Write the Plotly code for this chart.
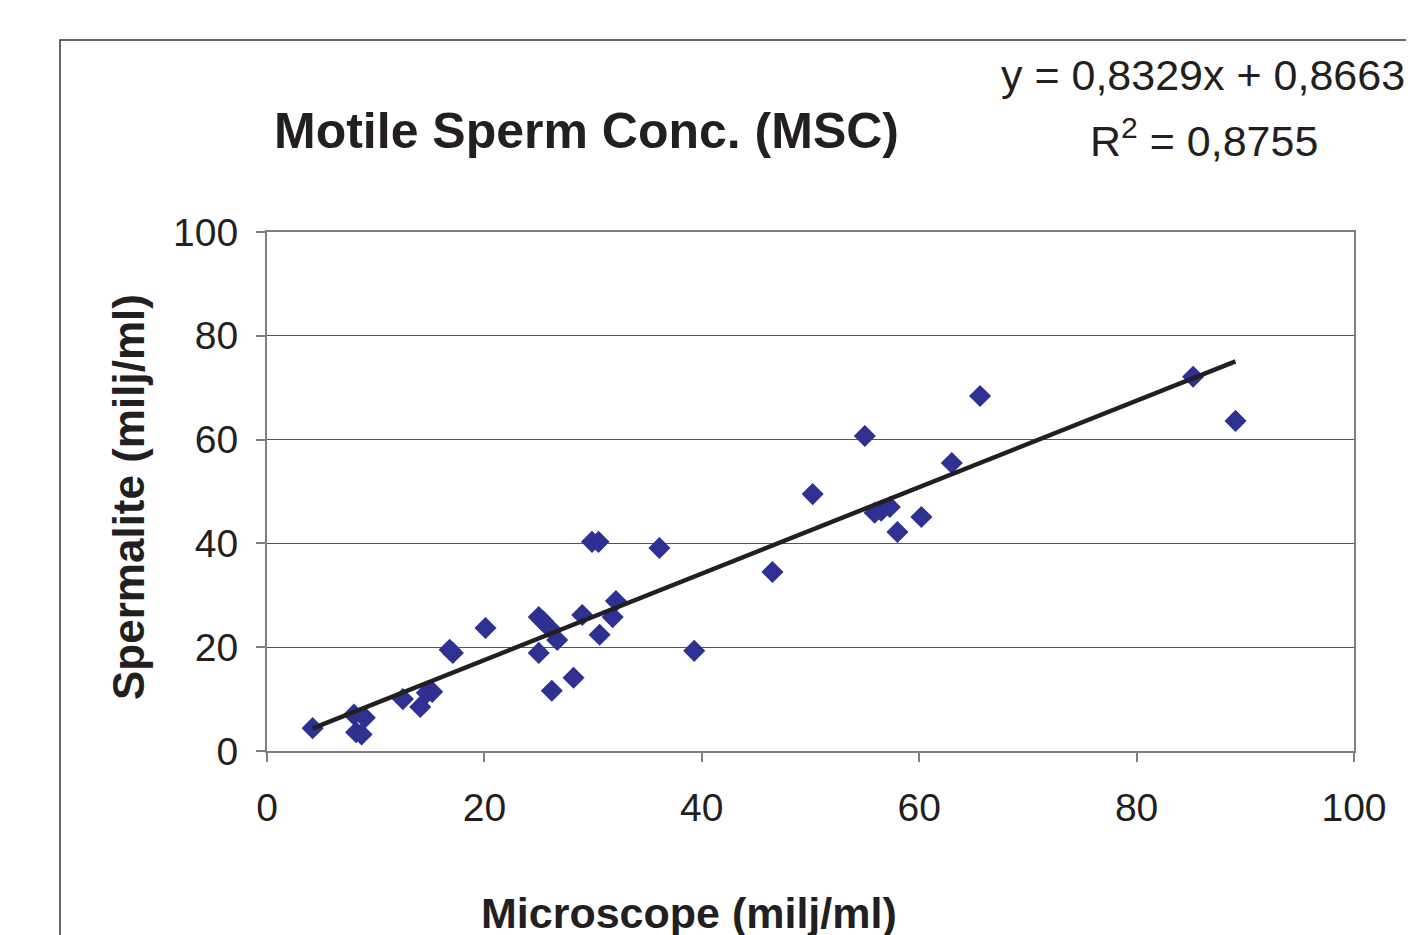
import plotly.graph_objects as go

# Data
microscope = [4.2, 8.0, 9.0, 8.2, 8.7, 12.5, 14.1, 14.7, 15.2, 16.8, 17.1, 20.1,
              25.0, 25.4, 26.0, 26.7, 25.0, 26.2, 28.2, 29.0, 30.6, 31.8, 32.1,
              29.9, 30.5, 36.1, 39.3, 46.5, 50.2, 55.0, 55.9, 56.5, 57.3, 58.0,
              60.2, 63.0, 65.6, 85.2, 89.1]
spermalite = [4.4, 7.0, 6.4, 3.6, 3.2, 10.0, 8.5, 11.2, 11.4, 19.5, 18.9, 23.7,
              25.8, 25.0, 23.7, 21.4, 18.9, 11.6, 14.1, 26.2, 22.4, 25.8, 28.9,
              40.3, 40.3, 39.1, 19.3, 34.5, 49.5, 60.7, 45.9, 46.3, 47.0, 42.2,
              45.1, 55.5, 68.4, 72.1, 63.6]
slope = 0.8329
intercept = 0.8663
r2 = 0.8755
tick_vals = [0, 20, 40, 60, 80, 100]

FONT = "Arial, Liberation Sans, Helvetica, sans-serif"

x_line = [min(microscope), max(microscope)]
y_line = [slope * v + intercept for v in x_line]

fig = go.Figure()
fig.add_trace(go.Scatter(
    x=microscope, y=spermalite, mode="markers",
    marker=dict(symbol="diamond", size=17, color="#2E3192", line=dict(width=0)),
    showlegend=False, hoverinfo="x+y"))
fig.add_trace(go.Scatter(
    x=x_line, y=y_line, mode="lines",
    line=dict(color="#231F20", width=4.5),
    showlegend=False, hoverinfo="skip"))

axis_common = dict(
    range=[0, 100], tickvals=tick_vals, showline=True, linecolor="#808080",
    linewidth=2, mirror=True, ticks="outside", ticklen=9, tickwidth=2,
    tickcolor="#808080", zeroline=False,
    tickfont=dict(family=FONT, size=39, color="#231F20"))

fig.update_xaxes(**axis_common, showgrid=False, ticklabelstandoff=12)
fig.update_yaxes(**axis_common, showgrid=True, gridcolor="#555555",
                 gridwidth=1, ticklabelstandoff=10)

W, H = 1414, 935
OFF = 8  # page body margin
PL, PR, PT, PB = 267, 1354, 232, 751  # target plot-area edges on screen
L = PL - OFF
T = PT - OFF
R = W - L - (PR - PL)
B = H - T - (PB - PT)
pw, ph = PR - PL, PB - PT

def px(xp):
    return (xp - PL) / pw

def py(yp):
    return (PB - yp) / ph

annotations = [
    dict(text="<b>Motile Sperm Conc. (MSC)</b>", x=px(586), y=py(131),
         font=dict(family=FONT, size=50, color="#231F20")),
    dict(text=f"y = {str(slope).replace('.', ',')}x + {str(intercept).replace('.', ',')}",
         x=px(1203), y=py(75), font=dict(family=FONT, size=43, color="#231F20")),
    dict(text=f"R<sup>2</sup> = {str(r2).replace('.', ',')}",
         x=px(1204), y=py(138), font=dict(family=FONT, size=43, color="#231F20")),
    dict(text="<b>Microscope (milj/ml)</b>", x=px(689), y=py(913),
         font=dict(family=FONT, size=43, color="#231F20")),
    dict(text="<b>Spermalite (milj/ml)</b>", x=px(128), y=py(497), textangle=-90,
         font=dict(family=FONT, size=44, color="#231F20")),
]
for a in annotations:
    a.update(xref="paper", yref="paper", showarrow=False,
             xanchor="center", yanchor="middle")

fig.update_layout(
    width=W, height=H,
    margin=dict(l=L, r=R, t=T, b=B),
    paper_bgcolor="white", plot_bgcolor="white",
    annotations=annotations,
    shapes=[dict(type="rect", xref="paper", yref="paper",
                 x0=px(60), y0=py(40), x1=px(1600), y1=py(1200),
                 line=dict(color="#333333", width=1.5), layer="below")],
)

fig.write_html("out.html")
